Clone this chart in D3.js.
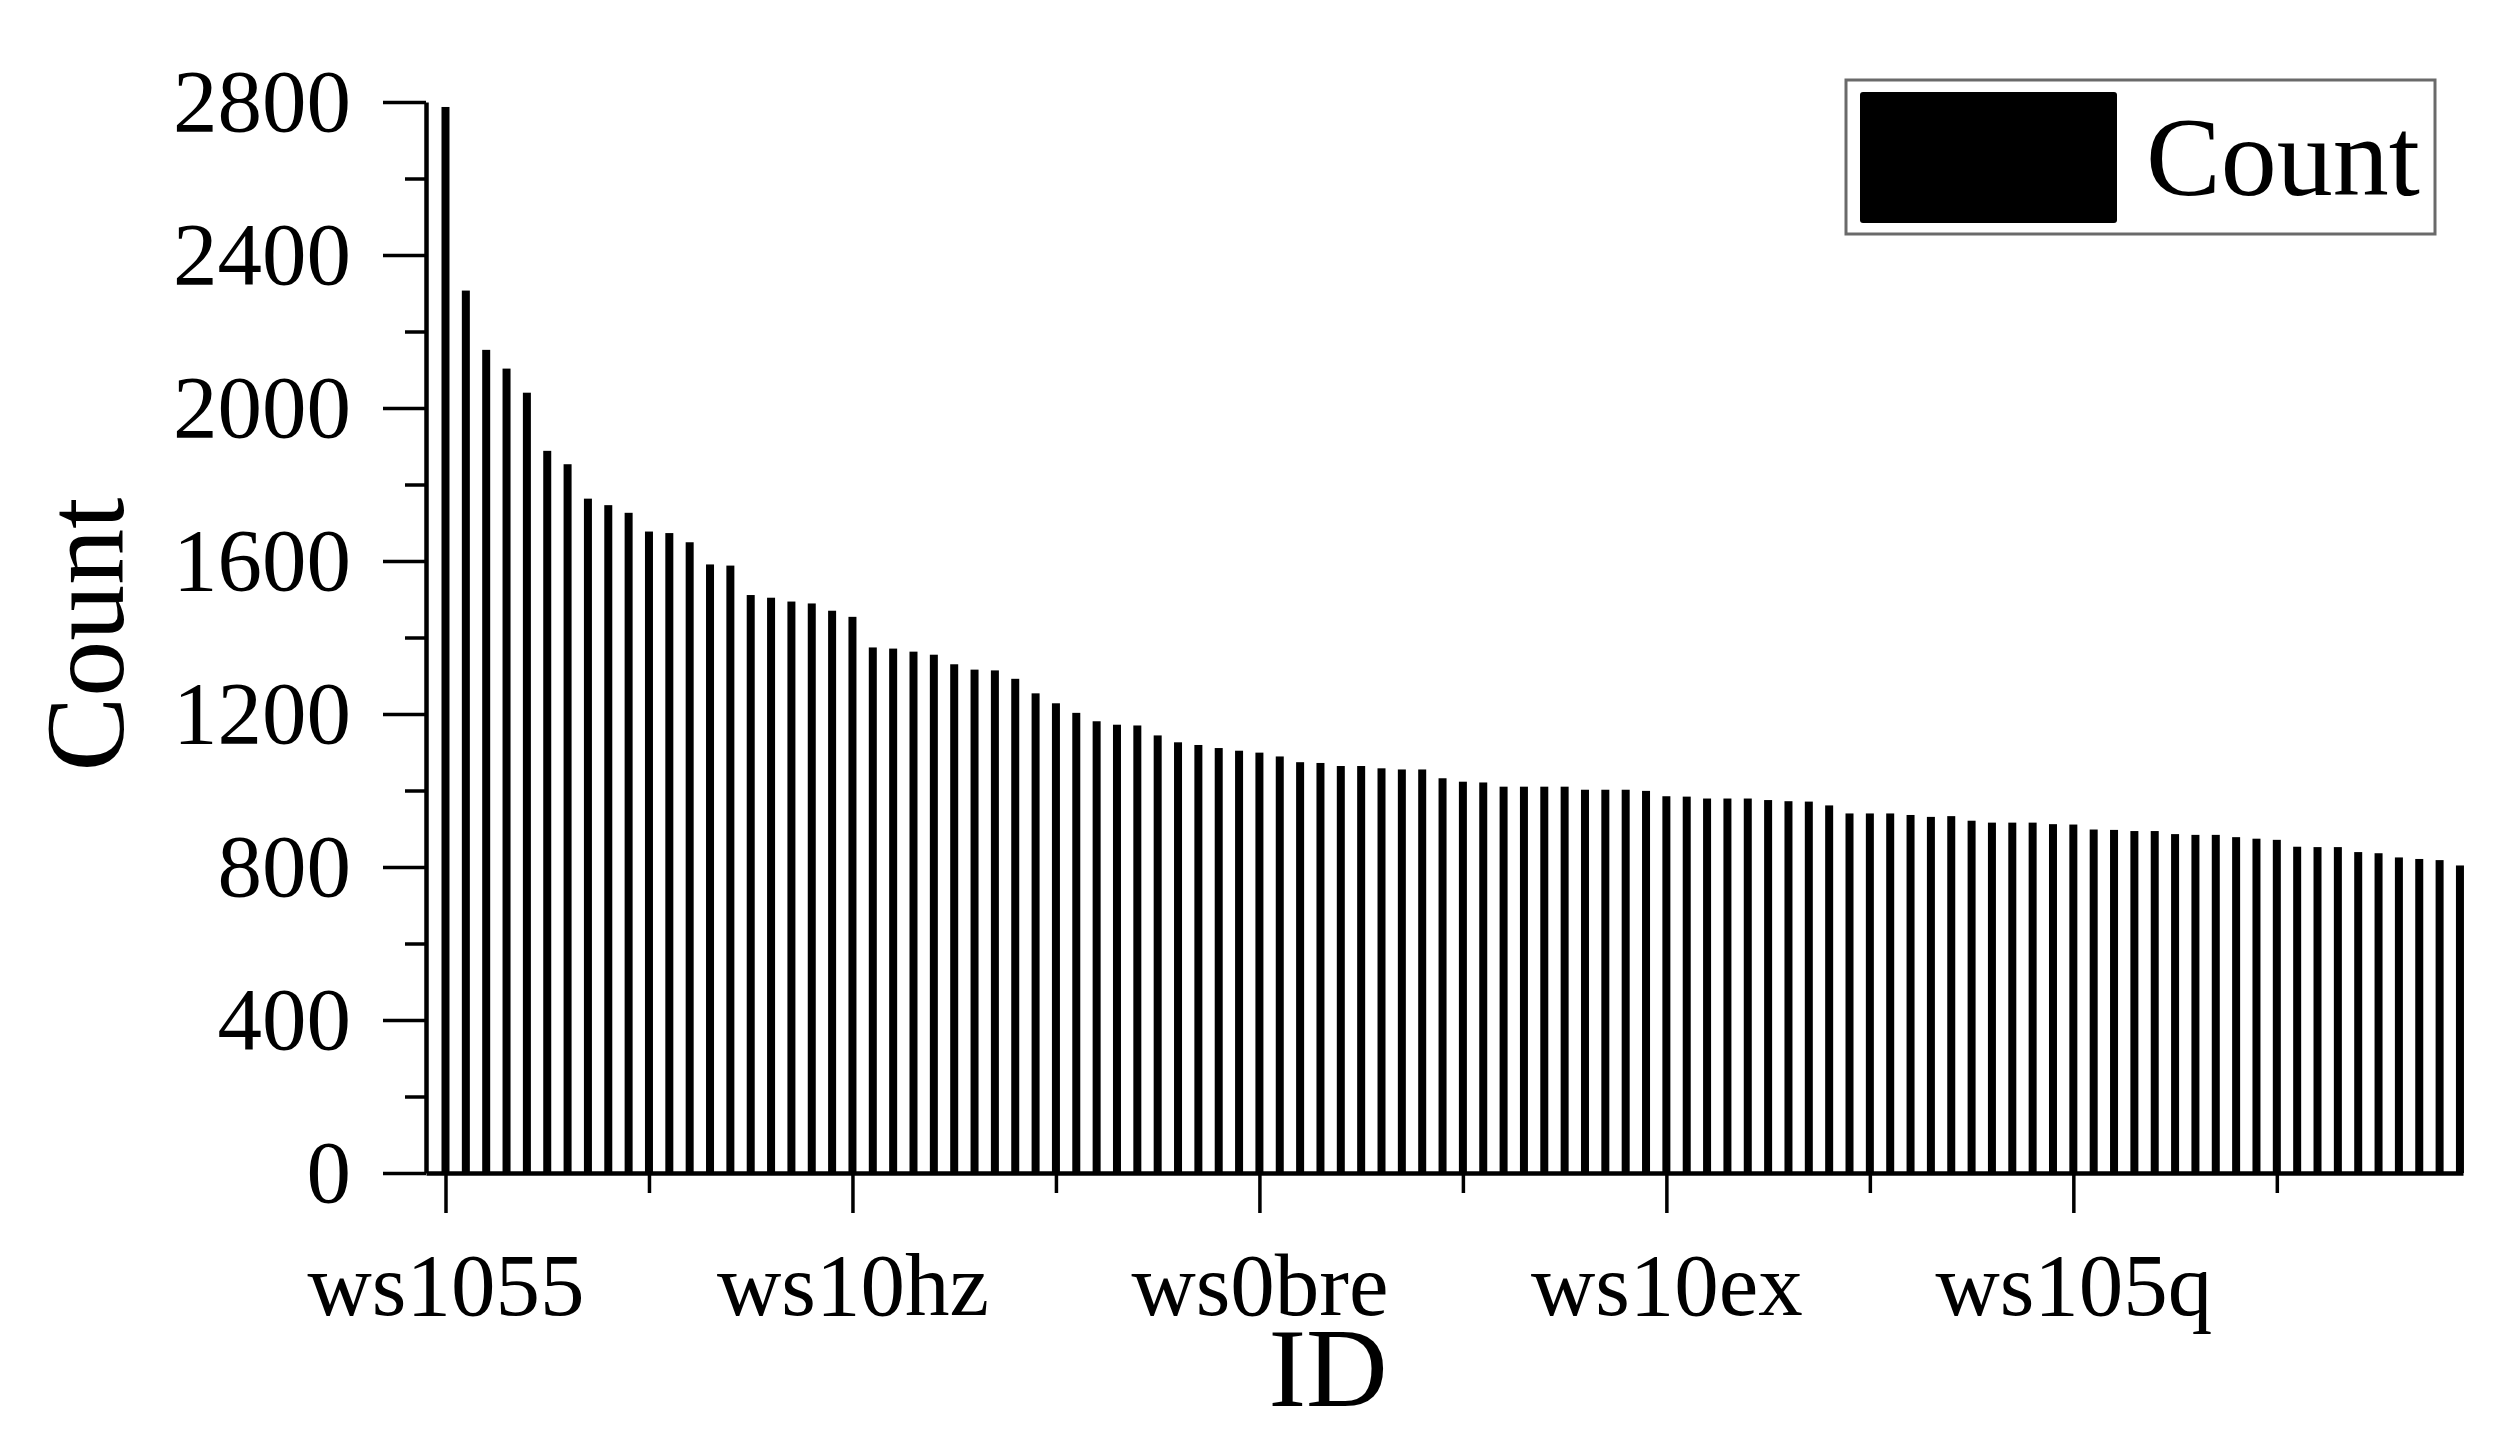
<!DOCTYPE html>
<html>
<head>
<meta charset="utf-8">
<script src="https://cdn.jsdelivr.net/npm/d3@7"></script>
<style>
  html, body { margin: 0; padding: 0; background: #fff; }
  svg { display: block; }
  text { font-family: "Liberation Serif", "Times New Roman", serif; fill: #000; }
</style>
</head>
<body>
<script>
// ---- data ----
const counts = [
  2787, 2307, 2152, 2103, 2040, 1888, 1853, 1763, 1746, 1726,
  1677, 1673, 1649, 1591, 1588, 1511, 1504, 1494, 1489, 1470,
  1454, 1374, 1371, 1363, 1355, 1330, 1316, 1314, 1292, 1254,
  1228, 1203, 1181, 1172, 1170, 1144, 1126, 1119, 1111, 1104,
  1099, 1089, 1074, 1072, 1064, 1064, 1058, 1055, 1055, 1032,
  1023, 1021, 1010, 1010, 1010, 1010, 1002, 1002, 1002, 999,
  985, 984, 979, 979, 979, 975, 972, 971, 961, 940,
  940, 940, 936, 931, 933, 921, 916, 916, 916, 912,
  911, 898, 897, 894, 894, 886, 884, 884, 878, 874,
  871, 853, 852, 852, 839, 836, 825, 821, 818, 804
];
const labelIndex = [0, 20, 40, 60, 80];
const tickLabels = ["ws1055", "ws10hz", "ws0bre", "ws10ex", "ws105q"];
const minorIndex = [10, 30, 50, 70, 90];
const yMajor = [0, 400, 800, 1200, 1600, 2000, 2400, 2800];
const yMinor = [200, 600, 1000, 1400, 1800, 2200, 2600];
const seriesName = "Count";
const xTitle = "ID";
const yTitle = "Count";

// ---- layout ----
const W = 2495, H = 1430;
const pL = 426, pR = 2463, pT = 102, pB = 1173;
const fontTick = 89;

const svg = d3.select("body").append("svg").attr("width", W).attr("height", H);

const x = d3.scaleLinear().domain([-0.958, 99.15]).range([pL, pR]);
const y = d3.scaleLinear().domain([0, 2800]).range([pB, pT]);

// bars
const barW = 8;
svg.append("g").selectAll("rect").data(counts).join("rect")
  .attr("x", (d, i) => x(i) - barW / 2)
  .attr("width", barW)
  .attr("y", d => y(d))
  .attr("height", d => y(0) - y(d))
  .attr("fill", "#000");

// y axis
const yAxisG = svg.append("g").attr("transform", `translate(${pL},0)`);
yAxisG.call(d3.axisLeft(y).tickValues(yMajor).tickSize(43).tickPadding(32).tickSizeOuter(0).tickFormat(d3.format("d")));
yAxisG.append("g").call(d3.axisLeft(y).tickValues(yMinor).tickSize(21).tickSizeOuter(0).tickFormat(""))
  .select(".domain").remove();
yAxisG.selectAll("line").attr("stroke", "#000").attr("stroke-width", 3.5);
yAxisG.selectAll(".domain").attr("stroke", "#000").attr("stroke-width", 4.5);
yAxisG.selectAll("text").style("font-size", fontTick + "px").style("font-family", "Liberation Serif").attr("fill", "#000");

// x axis
const xAxisG = svg.append("g").attr("transform", `translate(0,${pB})`);
xAxisG.call(d3.axisBottom(x).tickValues(labelIndex).tickSize(40).tickSizeOuter(0)
  .tickFormat((d, i) => tickLabels[i]));
xAxisG.append("g").call(d3.axisBottom(x).tickValues(minorIndex).tickSize(20).tickSizeOuter(0).tickFormat(""))
  .select(".domain").remove();
xAxisG.selectAll("line").attr("stroke", "#000").attr("stroke-width", 3.5);
xAxisG.selectAll(".domain").attr("stroke", "#000").attr("stroke-width", 4.5);
xAxisG.selectAll("text").style("font-size", fontTick + "px").style("font-family", "Liberation Serif")
  .attr("fill", "#000").attr("y", 142).attr("dy", 0);

// axis titles
svg.append("text").attr("x", 1328).attr("y", 1406).attr("text-anchor", "middle")
  .style("font-size", "113px").text(xTitle);
svg.append("text").attr("transform", `translate(123,${(pT + pB) / 2 - 3}) rotate(-90)`)
  .attr("text-anchor", "middle").style("font-size", "112px").text(yTitle);

// legend
const lg = svg.append("g");
lg.append("rect").attr("x", 1846).attr("y", 80).attr("width", 589).attr("height", 154)
  .attr("fill", "#fff").attr("stroke", "#6a6a6a").attr("stroke-width", 3);
lg.append("rect").attr("x", 1860).attr("y", 92).attr("width", 257).attr("height", 131)
  .attr("rx", 3).attr("fill", "#000");
lg.append("text").attr("x", 2146).attr("y", 195).style("font-size", "112px").text(seriesName);
</script>
</body>
</html>
